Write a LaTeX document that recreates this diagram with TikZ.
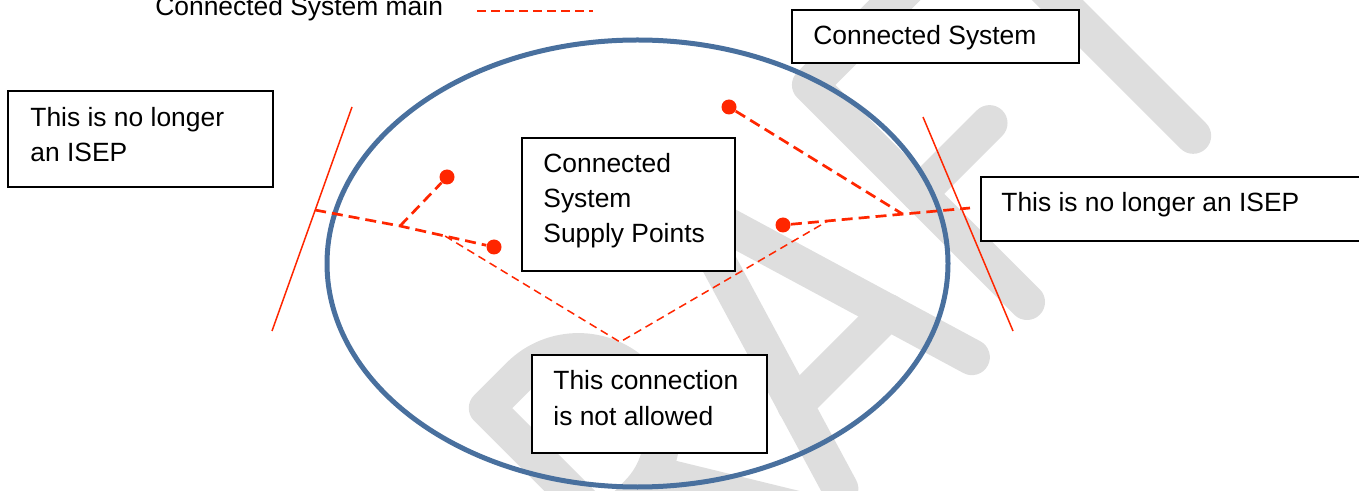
\documentclass[tikz,border=0pt]{standalone}
\usepackage{fontspec}
\setmainfont{Liberation Sans}
\usetikzlibrary{calc}

\definecolor{isepred}{RGB}{255,38,0}
\definecolor{systemblue}{RGB}{73,112,158}
\definecolor{draftgray}{RGB}{222,222,222}

\begin{document}
\begin{tikzpicture}[
	x=0.5pt,
	y=-0.5pt,
	textbox/.style={
		rectangle,
		draw=black,
		line width=0.75pt,
		fill=white,
		anchor=north west,
		inner sep=0pt,
		outer sep=0pt
	},
	boxtext/.style={
		anchor=base west,
		inner sep=0pt,
		font=\fontsize{13.2pt}{15pt}\selectfont
	},
	supplypoint/.style={
		circle,
		fill=isepred,
		inner sep=0pt,
		minimum size=7.5pt
	},
	mainline/.style={
		draw=isepred,
		line width=1.35pt,
		dash pattern=on 5.5pt off 3pt
	},
	thinline/.style={
		draw=isepred,
		line width=0.75pt,
		dash pattern=on 4pt off 2.5pt
	},
	boundary/.style={
		draw=isepred,
		line width=0.75pt
	},
	watermark/.style={
		draw=draftgray,
		line width=18pt,
		line cap=round,
		line join=round
	},
]

\useasboundingbox (0,0) rectangle (1359,491);

% Watermark
\begin{scope}[shift={(1027,302)}, rotate=45, x=0.5pt, y=0.5pt]
\draw[watermark] (-457,0) -- (-457,307) -- (-411,307)
	arc[start angle=90, end angle=-90, radius=41.75pt] -- (-457,140);
\draw[watermark] (-384,140) -- (-299,0);
\draw[watermark] (-264,0) -- (-171,310) -- (-78,0);
\draw[watermark] (-237,91) -- (-105,91);
\draw[watermark] (160,307) -- (0,307) -- (0,0);
\draw[watermark] (0,153) -- (100,153);
\draw[watermark] (235,0) -- (235,307);
\draw[watermark] (120,307) -- (350,307);
\end{scope}

% Legend
\node[boxtext] (legend) at (155,16) {Connected System main};
\coordinate (legA) at (477,11);
\coordinate (legB) at (593,11);
\draw[thinline, dash pattern=on 4.5pt off 2.5pt] (legA) -- (legB);

% Connected System
\draw[line width=2.5pt, draw=systemblue] (637.5,263.5) ellipse [x radius=155.25pt, y radius=111.75pt];

% Boxes
\node[textbox, minimum width=132.5pt, minimum height=48pt] (isepLbox) at (8,91) {};
\node[boxtext] (isepL1) at (30,127) {This is no longer};
\node[boxtext] (isepL2) at (30,162) {an ISEP};

\node[textbox, minimum width=143.5pt, minimum height=26.5pt] (systembox) at (792,10) {};
\node[boxtext] (system1) at (813,45) {Connected System};

\node[textbox, minimum width=106.5pt, minimum height=66.5pt] (supplybox) at (522,138) {};
\node[boxtext] (supply1) at (543,173) {Connected};
\node[boxtext] (supply2) at (543,208) {System};
\node[boxtext] (supply3) at (543,243) {Supply Points};

\node[textbox, minimum width=197pt, minimum height=32pt] (isepRbox) at (981,177) {};
\node[boxtext] (isepR1) at (1001,212) {This is no longer an ISEP};

\node[textbox, minimum width=117.5pt, minimum height=49pt] (allowedbox) at (532,355) {};
\node[boxtext] (allowed1) at (553,390) {This connection};
\node[boxtext] (allowed2) at (553,425) {is not allowed};

% Boundaries
\coordinate (bL1) at (352,107);
\coordinate (bL2) at (272,331);
\coordinate (bR1) at (923,117);
\coordinate (bR2) at (1013,331);
\draw[boundary] (bL1) -- (bL2);
\draw[boundary] (bR1) -- (bR2);

% Supply points
\node[supplypoint] (dot1) at (447,177) {};
\node[supplypoint] (dot2) at (494,247) {};
\node[supplypoint] (dot3) at (729,107) {};
\node[supplypoint] (dot4) at (783,225) {};

% Mains
\coordinate (pL) at ($(bL1)!0.46!(bL2)$);
\coordinate (jL) at (400,226);
\coordinate (pR) at (970,208);
\coordinate (jR) at ($(dot4)!0.64!(pR)$);

\draw[mainline] (pL) -- (jL) -- (dot2);
\draw[mainline] (jL) -- (dot1);
\draw[mainline] (dot4) -- (pR);
\draw[mainline] (dot3) -- (jR);

% Connection not allowed
\coordinate (kL) at ($(jL)!0.48!(dot2)$);
\coordinate (vB) at (620,342);
\coordinate (kR) at ($(dot4)!0.24!(pR)$);
\draw[thinline] (kL) -- (vB) -- (kR);

\end{tikzpicture}
\end{document}
